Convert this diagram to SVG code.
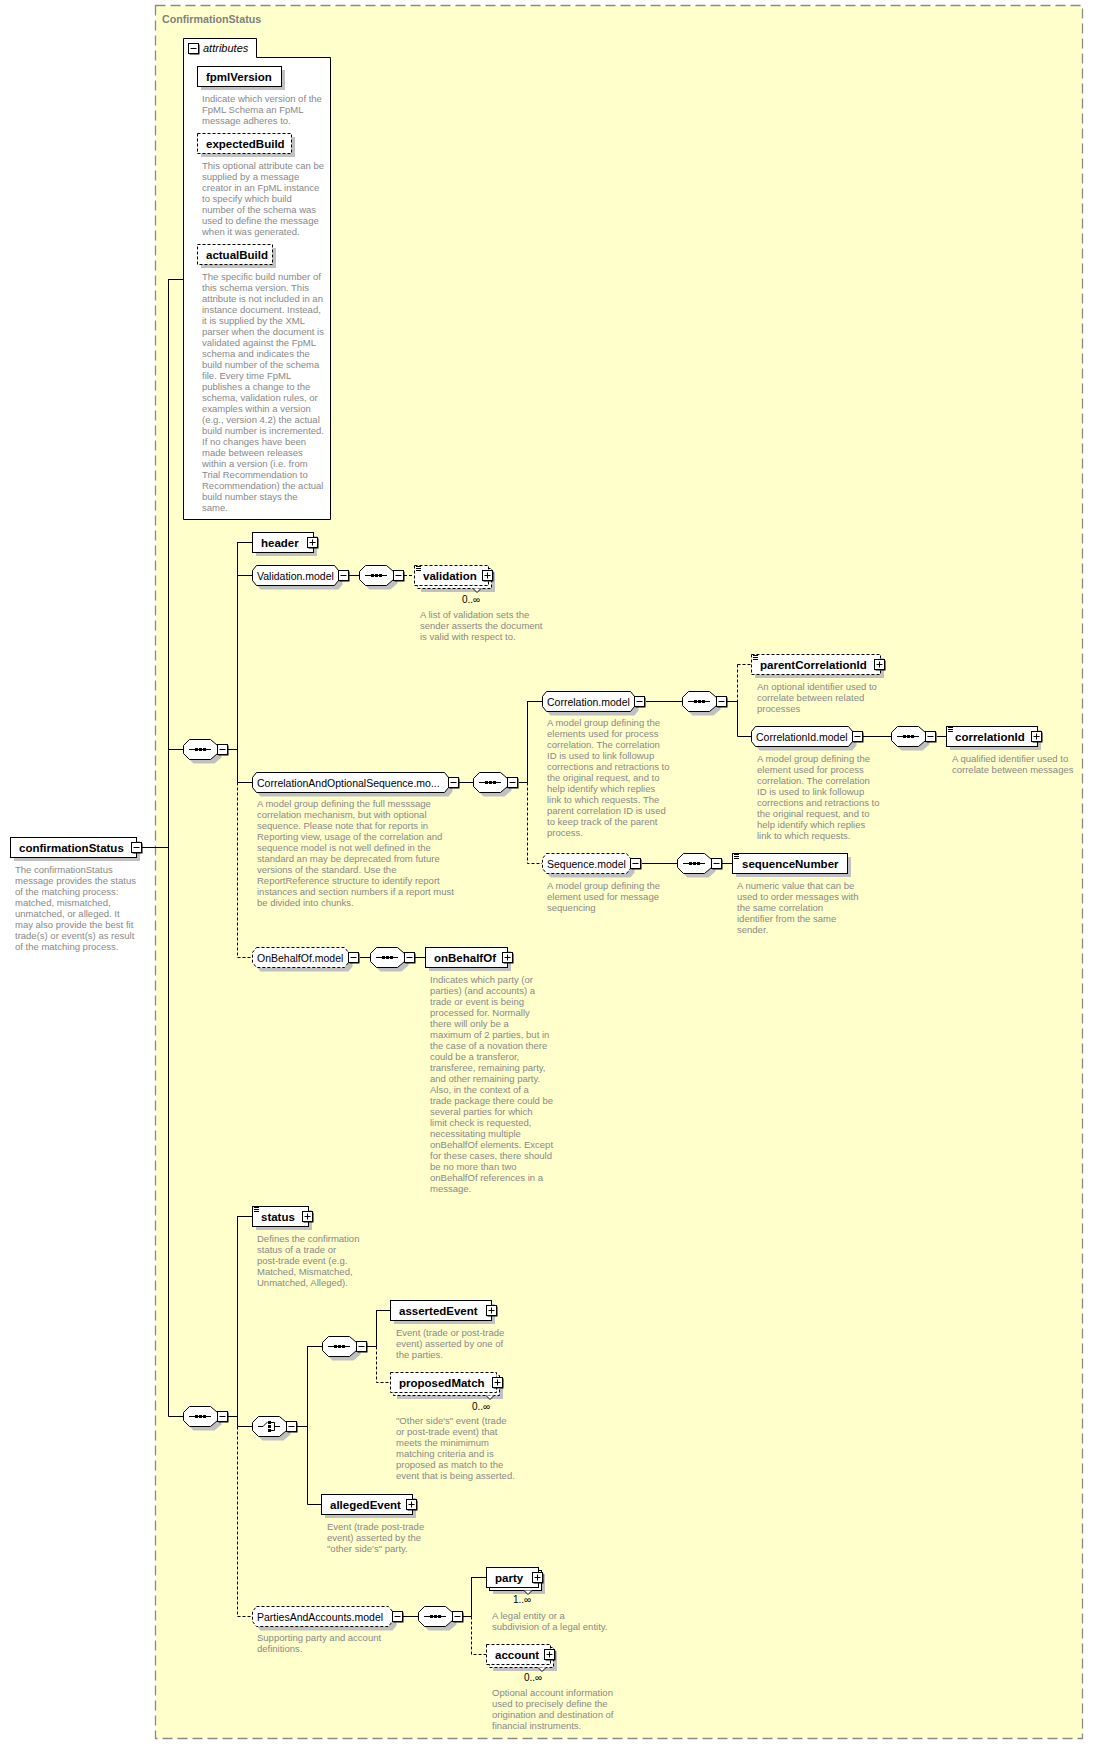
<svg xmlns="http://www.w3.org/2000/svg" xmlns:xlink="http://www.w3.org/1999/xlink" width="1093" height="1749" viewBox="0 0 1093 1749">
<style>
.frame{fill:#ffffcc;stroke:#8a8a8a;stroke-width:1.3;stroke-dasharray:10 5}
.ttl{font-family:"Liberation Sans",Arial,sans-serif;font-weight:bold;font-size:10.7px;fill:#808080}
.el{fill:#fff;stroke:#000;stroke-width:1}
.opt{stroke-dasharray:3 2}
.sh{fill:#c0c0c0;stroke:none}
.ln{fill:none;stroke:#000;stroke-width:1}
.dl{fill:none;stroke:#000;stroke-width:1;stroke-dasharray:3 2}
.n{font-family:"Liberation Sans",Arial,sans-serif;font-weight:bold;font-size:11.5px;fill:#000}
.m{font-family:"Liberation Sans",Arial,sans-serif;font-size:10.5px;fill:#000}
.it{font-family:"Liberation Sans",Arial,sans-serif;font-style:italic;font-size:11px;fill:#000}
.occ{font-family:"Liberation Sans",Arial,sans-serif;font-size:10px;fill:#000}
.d{font-family:"Liberation Sans",Arial,sans-serif;font-size:9.5px;fill:#888}
</style>
<defs>
<g id="bm"><rect x="1.5" y="1.5" width="10" height="10" fill="#000"/><rect x="0.5" y="0.5" width="10" height="10" fill="#fff" stroke="#000"/><path d="M2.5 5.5H8.5" stroke="#000"/></g>
<g id="bp"><rect x="1.5" y="1.5" width="10" height="10" fill="#000"/><rect x="0.5" y="0.5" width="10" height="10" fill="#fff" stroke="#000"/><path d="M2.5 5.5H8.5M5.5 2.5V8.5" stroke="#000"/></g>
<g id="lst"><path d="M2 1.5H7M2 3.5H7M2 5.5H7" stroke="#000"/></g>
<g id="sq"><polygon class="sh" points="10.5,4.5 31.5,4.5 38.5,10.5 38.5,18.5 31.5,24.5 10.5,24.5 4.5,18.5 4.5,10.5"/><polygon class="el" points="6.5,0.5 27.5,0.5 34.5,6.5 34.5,14.5 27.5,20.5 6.5,20.5 0.5,14.5 0.5,6.5"/><path d="M6 10.5H28" stroke="#000"/><rect x="12" y="9" width="3" height="3" fill="#000"/><rect x="16" y="9" width="3" height="3" fill="#000"/><rect x="20" y="9" width="3" height="3" fill="#000"/><use xlink:href="#bm" x="34" y="5"/></g>
<g id="ch"><polygon class="sh" points="10.5,4.5 31.5,4.5 38.5,10.5 38.5,18.5 31.5,24.5 10.5,24.5 4.5,18.5 4.5,10.5"/><polygon class="el" points="6.5,0.5 27.5,0.5 34.5,6.5 34.5,14.5 27.5,20.5 6.5,20.5 0.5,14.5 0.5,6.5"/><path d="M6 10.5H11L15.5 6" fill="none" stroke="#000"/><rect x="16" y="5" width="3" height="3" fill="#000"/><rect x="16" y="9" width="3" height="3" fill="#000"/><rect x="16" y="13" width="3" height="3" fill="#000"/><path d="M19 6.5H22.5V14.5H19M22.5 10.5H28" fill="none" stroke="#000"/><use xlink:href="#bm" x="34" y="5"/></g>
</defs>

<rect class="frame" x="155.5" y="5.5" width="927" height="1733"/>
<text class="ttl" x="162" y="23">ConfirmationStatus</text>

<g id="connectors">
<path class="ln" d="M141 847.5H168.5M168.5 279V1416.5M168.5 279.5H183M168.5 749.5H183M168.5 1416.5H183M228 749.5H237.5M237.5 542V782.5M237.5 542.5H252M237.5 575.5H252M349 575.5H359M237.5 782.5H252M459 782.5H473M519 782.5H527.5M527.5 701V782.5M527.5 701.5H542M646 701.5H682M727 701.5H737.5M737.5 701V736.5M737.5 736.5H751M862 736.5H891M937 736.5H946M642 863.5H677M722 863.5H732M360 957.5H370M415 957.5H425M228 1416.5H237.5M237.5 1216V1426.5M237.5 1216.5H252M237.5 1426.5H252M297 1426.5H307.5M307.5 1346V1504.5M307.5 1346.5H322M366 1346.5H376.5M376.5 1310V1346.5M376.5 1310.5H390M307.5 1504.5H321M403 1616.5H418M462 1616.5H471.5M471.5 1577V1616.5M471.5 1577.5H486"/>
<path class="dl" d="M404 575.5H414M237.5 782.5V957.5H252M527.5 782.5V863.5H542M737.5 664.5V701M737.5 664.5H751M376.5 1346.5V1382.5H390M237.5 1426.5V1616.5H252M471.5 1616.5V1654.5H486"/>
</g>

<g id="attributes">
<path class="el" d="M183.5 519.5V38.5H256.5V57.5H330.5V519.5Z"/>
<use xlink:href="#bm" x="188" y="43"/>
<text class="it" x="203" y="52">attributes</text>
<g id="fpmlVersion">
<rect class="sh" x="201" y="70" width="84" height="20"/>
<rect class="el" x="197.5" y="66.5" width="84" height="20"/>
<text class="n" x="206" y="81">fpmlVersion</text>
<text class="d" x="202" y="102"><tspan x="202">Indicate which version of the</tspan><tspan x="202" dy="11">FpML Schema an FpML</tspan><tspan x="202" dy="11">message adheres to.</tspan></text>
</g>
<g id="expectedBuild">
<rect class="sh" x="201" y="137" width="94" height="20"/>
<rect class="el opt" x="197.5" y="133.5" width="94" height="20"/>
<text class="n" x="206" y="148">expectedBuild</text>
<text class="d" x="202" y="169"><tspan x="202">This optional attribute can be</tspan><tspan x="202" dy="11">supplied by a message</tspan><tspan x="202" dy="11">creator in an FpML instance</tspan><tspan x="202" dy="11">to specify which build</tspan><tspan x="202" dy="11">number of the schema was</tspan><tspan x="202" dy="11">used to define the message</tspan><tspan x="202" dy="11">when it was generated.</tspan></text>
</g>
<g id="actualBuild">
<rect class="sh" x="201" y="248" width="75" height="20"/>
<rect class="el opt" x="197.5" y="244.5" width="75" height="20"/>
<text class="n" x="206" y="259">actualBuild</text>
<text class="d" x="202" y="280"><tspan x="202">The specific build number of</tspan><tspan x="202" dy="11">this schema version. This</tspan><tspan x="202" dy="11">attribute is not included in an</tspan><tspan x="202" dy="11">instance document. Instead,</tspan><tspan x="202" dy="11">it is supplied by the XML</tspan><tspan x="202" dy="11">parser when the document is</tspan><tspan x="202" dy="11">validated against the FpML</tspan><tspan x="202" dy="11">schema and indicates the</tspan><tspan x="202" dy="11">build number of the schema</tspan><tspan x="202" dy="11">file. Every time FpML</tspan><tspan x="202" dy="11">publishes a change to the</tspan><tspan x="202" dy="11">schema, validation rules, or</tspan><tspan x="202" dy="11">examples within a version</tspan><tspan x="202" dy="11">(e.g., version 4.2) the actual</tspan><tspan x="202" dy="11">build number is incremented.</tspan><tspan x="202" dy="11">If no changes have been</tspan><tspan x="202" dy="11">made between releases</tspan><tspan x="202" dy="11">within a version (i.e. from</tspan><tspan x="202" dy="11">Trial Recommendation to</tspan><tspan x="202" dy="11">Recommendation) the actual</tspan><tspan x="202" dy="11">build number stays the</tspan><tspan x="202" dy="11">same.</tspan></text>
</g>
</g>

<g id="confirmationStatus" transform="translate(10,837)">
<rect class="sh" x="4" y="4" width="126" height="20"/>
<rect class="el" x="0.5" y="0.5" width="126" height="20"/>
<text class="n" x="9" y="15">confirmationStatus</text>
<use xlink:href="#bm" x="121" y="5"/>
<text class="d" x="5" y="36"><tspan x="5">The confirmationStatus</tspan><tspan x="5" dy="11">message provides the status</tspan><tspan x="5" dy="11">of the matching process:</tspan><tspan x="5" dy="11">matched, mismatched,</tspan><tspan x="5" dy="11">unmatched, or alleged. It</tspan><tspan x="5" dy="11">may also provide the best fit</tspan><tspan x="5" dy="11">trade(s) or event(s) as result</tspan><tspan x="5" dy="11">of the matching process.</tspan></text>
</g>

<g id="seq1"><use xlink:href="#sq" x="183" y="739"/></g>

<g id="header" transform="translate(252,532)">
<rect class="sh" x="4" y="4" width="61" height="20"/>
<rect class="el" x="0.5" y="0.5" width="61" height="20"/>
<text class="n" x="9" y="15">header</text>
<use xlink:href="#bp" x="55" y="5"/>
</g>

<g id="Validation.model" transform="translate(252,565)">
<polygon class="sh" points="8.5,4.5 86.5,4.5 90.5,9.5 90.5,19.5 86.5,24.5 8.5,24.5 4.5,19.5 4.5,9.5"/>
<polygon class="el" points="4.5,0.5 82.5,0.5 86.5,5.5 86.5,15.5 82.5,20.5 4.5,20.5 0.5,15.5 0.5,5.5"/>
<text class="m" x="5" y="14.5">Validation.model</text>
<use xlink:href="#bm" x="86" y="5"/>
</g>
<g id="seqValidation"><use xlink:href="#sq" x="359" y="565"/></g>
<g id="validation" transform="translate(414,565)">
<rect class="sh" x="7" y="7" width="74" height="20"/>
<rect class="el opt" x="3.5" y="3.5" width="74" height="20"/>
<rect class="el opt" x="0.5" y="0.5" width="74" height="20"/>
<path d="M59 23.5L63 27.5L67 23.5" fill="#fff" stroke="#000"/>
<use xlink:href="#lst"/>
<text class="n" x="9" y="15">validation</text>
<use xlink:href="#bp" x="68" y="5"/>
<text class="occ" x="48" y="38">0..∞</text>
<text class="d" x="6" y="53"><tspan x="6">A list of validation sets the</tspan><tspan x="6" dy="11">sender asserts the document</tspan><tspan x="6" dy="11">is valid with respect to.</tspan></text>
</g>

<g id="CorrelationAndOptionalSequence.model" transform="translate(252,772)">
<polygon class="sh" points="8.5,4.5 196.5,4.5 200.5,9.5 200.5,19.5 196.5,24.5 8.5,24.5 4.5,19.5 4.5,9.5"/>
<polygon class="el" points="4.5,0.5 192.5,0.5 196.5,5.5 196.5,15.5 192.5,20.5 4.5,20.5 0.5,15.5 0.5,5.5"/>
<text class="m" x="5" y="14.5">CorrelationAndOptionalSequence.mo...</text>
<use xlink:href="#bm" x="196" y="5"/>
<text class="d" x="5" y="35"><tspan x="5">A model group defining the full messsage</tspan><tspan x="5" dy="11">correlation mechanism, but with optional</tspan><tspan x="5" dy="11">sequence. Please note that for reports in</tspan><tspan x="5" dy="11">Reporting view, usage of the correlation and</tspan><tspan x="5" dy="11">sequence model is not well defined in the</tspan><tspan x="5" dy="11">standard an may be deprecated from future</tspan><tspan x="5" dy="11">versions of the standard. Use the</tspan><tspan x="5" dy="11">ReportReference structure to identify report</tspan><tspan x="5" dy="11">instances and section numbers if a report must</tspan><tspan x="5" dy="11">be divided into chunks.</tspan></text>
</g>
<g id="seqCorrAndOpt"><use xlink:href="#sq" x="473" y="772"/></g>

<g id="Correlation.model" transform="translate(542,691)">
<polygon class="sh" points="8.5,4.5 92.5,4.5 96.5,9.5 96.5,19.5 92.5,24.5 8.5,24.5 4.5,19.5 4.5,9.5"/>
<polygon class="el" points="4.5,0.5 88.5,0.5 92.5,5.5 92.5,15.5 88.5,20.5 4.5,20.5 0.5,15.5 0.5,5.5"/>
<text class="m" x="5" y="14.5">Correlation.model</text>
<use xlink:href="#bm" x="92" y="5"/>
<text class="d" x="5" y="35"><tspan x="5">A model group defining the</tspan><tspan x="5" dy="11">elements used for process</tspan><tspan x="5" dy="11">correlation. The correlation</tspan><tspan x="5" dy="11">ID is used to link followup</tspan><tspan x="5" dy="11">corrections and retractions to</tspan><tspan x="5" dy="11">the original request, and to</tspan><tspan x="5" dy="11">help identify which replies</tspan><tspan x="5" dy="11">link to which requests. The</tspan><tspan x="5" dy="11">parent correlation ID is used</tspan><tspan x="5" dy="11">to keep track of the parent</tspan><tspan x="5" dy="11">process.</tspan></text>
</g>
<g id="seqCorrelation"><use xlink:href="#sq" x="682" y="691"/></g>

<g id="parentCorrelationId" transform="translate(751,654)">
<rect class="sh" x="4" y="4" width="129" height="20"/>
<rect class="el opt" x="0.5" y="0.5" width="129" height="20"/>
<use xlink:href="#lst"/>
<text class="n" x="9" y="15">parentCorrelationId</text>
<use xlink:href="#bp" x="123" y="5"/>
<text class="d" x="6" y="36"><tspan x="6">An optional identifier used to</tspan><tspan x="6" dy="11">correlate between related</tspan><tspan x="6" dy="11">processes</tspan></text>
</g>

<g id="CorrelationId.model" transform="translate(751,726)">
<polygon class="sh" points="8.5,4.5 101.5,4.5 105.5,9.5 105.5,19.5 101.5,24.5 8.5,24.5 4.5,19.5 4.5,9.5"/>
<polygon class="el" points="4.5,0.5 97.5,0.5 101.5,5.5 101.5,15.5 97.5,20.5 4.5,20.5 0.5,15.5 0.5,5.5"/>
<text class="m" x="5" y="14.5">CorrelationId.model</text>
<use xlink:href="#bm" x="101" y="5"/>
<text class="d" x="6" y="36"><tspan x="6">A model group defining the</tspan><tspan x="6" dy="11">element used for process</tspan><tspan x="6" dy="11">correlation. The correlation</tspan><tspan x="6" dy="11">ID is used to link followup</tspan><tspan x="6" dy="11">corrections and retractions to</tspan><tspan x="6" dy="11">the original request, and to</tspan><tspan x="6" dy="11">help identify which replies</tspan><tspan x="6" dy="11">link to which requests.</tspan></text>
</g>
<g id="seqCorrelationId"><use xlink:href="#sq" x="891" y="726"/></g>

<g id="correlationId" transform="translate(946,726)">
<rect class="sh" x="4" y="4" width="91" height="20"/>
<rect class="el" x="0.5" y="0.5" width="91" height="20"/>
<use xlink:href="#lst"/>
<text class="n" x="9" y="15">correlationId</text>
<use xlink:href="#bp" x="85" y="5"/>
<text class="d" x="6" y="36"><tspan x="6">A qualified identifier used to</tspan><tspan x="6" dy="11">correlate between messages</tspan></text>
</g>

<g id="Sequence.model" transform="translate(542,853)">
<polygon class="sh" points="8.5,4.5 88.5,4.5 92.5,9.5 92.5,19.5 88.5,24.5 8.5,24.5 4.5,19.5 4.5,9.5"/>
<polygon class="el opt" points="4.5,0.5 84.5,0.5 88.5,5.5 88.5,15.5 84.5,20.5 4.5,20.5 0.5,15.5 0.5,5.5"/>
<text class="m" x="5" y="14.5">Sequence.model</text>
<use xlink:href="#bm" x="88" y="5"/>
<text class="d" x="5" y="36"><tspan x="5">A model group defining the</tspan><tspan x="5" dy="11">element used for message</tspan><tspan x="5" dy="11">sequencing</tspan></text>
</g>
<g id="seqSequence"><use xlink:href="#sq" x="677" y="853"/></g>

<g id="sequenceNumber" transform="translate(732,853)">
<rect class="sh" x="4" y="4" width="115" height="20"/>
<rect class="el" x="0.5" y="0.5" width="115" height="20"/>
<use xlink:href="#lst"/>
<text class="n" x="10" y="15">sequenceNumber</text>
<text class="d" x="5" y="36"><tspan x="5">A numeric value that can be</tspan><tspan x="5" dy="11">used to order messages with</tspan><tspan x="5" dy="11">the same correlation</tspan><tspan x="5" dy="11">identifier from the same</tspan><tspan x="5" dy="11">sender.</tspan></text>
</g>

<g id="OnBehalfOf.model" transform="translate(252,947)">
<polygon class="sh" points="8.5,4.5 96.5,4.5 100.5,9.5 100.5,19.5 96.5,24.5 8.5,24.5 4.5,19.5 4.5,9.5"/>
<polygon class="el opt" points="4.5,0.5 92.5,0.5 96.5,5.5 96.5,15.5 92.5,20.5 4.5,20.5 0.5,15.5 0.5,5.5"/>
<text class="m" x="5" y="14.5">OnBehalfOf.model</text>
<use xlink:href="#bm" x="96" y="5"/>
</g>
<g id="seqOnBehalfOf"><use xlink:href="#sq" x="370" y="947"/></g>

<g id="onBehalfOf" transform="translate(425,947)">
<rect class="sh" x="4" y="4" width="82" height="20"/>
<rect class="el" x="0.5" y="0.5" width="82" height="20"/>
<text class="n" x="9" y="15">onBehalfOf</text>
<use xlink:href="#bp" x="77" y="5"/>
<text class="d" x="5" y="36"><tspan x="5">Indicates which party (or</tspan><tspan x="5" dy="11">parties) (and accounts) a</tspan><tspan x="5" dy="11">trade or event is being</tspan><tspan x="5" dy="11">processed for. Normally</tspan><tspan x="5" dy="11">there will only be a</tspan><tspan x="5" dy="11">maximum of 2 parties, but in</tspan><tspan x="5" dy="11">the case of a novation there</tspan><tspan x="5" dy="11">could be a transferor,</tspan><tspan x="5" dy="11">transferee, remaining party,</tspan><tspan x="5" dy="11">and other remaining party.</tspan><tspan x="5" dy="11">Also, in the context of a</tspan><tspan x="5" dy="11">trade package there could be</tspan><tspan x="5" dy="11">several parties for which</tspan><tspan x="5" dy="11">limit check is requested,</tspan><tspan x="5" dy="11">necessitating multiple</tspan><tspan x="5" dy="11">onBehalfOf elements. Except</tspan><tspan x="5" dy="11">for these cases, there should</tspan><tspan x="5" dy="11">be no more than two</tspan><tspan x="5" dy="11">onBehalfOf references in a</tspan><tspan x="5" dy="11">message.</tspan></text>
</g>

<g id="seq2"><use xlink:href="#sq" x="183" y="1406"/></g>

<g id="status" transform="translate(252,1206)">
<rect class="sh" x="4" y="4" width="56" height="20"/>
<rect class="el" x="0.5" y="0.5" width="56" height="20"/>
<use xlink:href="#lst"/>
<text class="n" x="9" y="15">status</text>
<use xlink:href="#bp" x="50" y="5"/>
<text class="d" x="5" y="36"><tspan x="5">Defines the confirmation</tspan><tspan x="5" dy="11">status of a trade or</tspan><tspan x="5" dy="11">post-trade event (e.g.</tspan><tspan x="5" dy="11">Matched, Mismatched,</tspan><tspan x="5" dy="11">Unmatched, Alleged).</tspan></text>
</g>

<g id="choice"><use xlink:href="#ch" x="252" y="1416"/></g>
<g id="seq3"><use xlink:href="#sq" x="322" y="1336"/></g>

<g id="assertedEvent" transform="translate(390,1300)">
<rect class="sh" x="4" y="4" width="101" height="20"/>
<rect class="el" x="0.5" y="0.5" width="101" height="20"/>
<text class="n" x="9" y="15">assertedEvent</text>
<use xlink:href="#bp" x="96" y="5"/>
<text class="d" x="6" y="36"><tspan x="6">Event (trade or post-trade</tspan><tspan x="6" dy="11">event) asserted by one of</tspan><tspan x="6" dy="11">the parties.</tspan></text>
</g>

<g id="proposedMatch" transform="translate(390,1372)">
<rect class="sh" x="7" y="7" width="106" height="20"/>
<rect class="el opt" x="3.5" y="3.5" width="106" height="20"/>
<rect class="el opt" x="0.5" y="0.5" width="106" height="20"/>
<path d="M96 23.5L100 27.5L104 23.5" fill="#fff" stroke="#000"/>
<text class="n" x="9" y="15">proposedMatch</text>
<use xlink:href="#bp" x="102" y="5"/>
<text class="occ" x="82" y="38">0..∞</text>
<text class="d" x="6" y="52"><tspan x="6">"Other side's" event (trade</tspan><tspan x="6" dy="11">or post-trade event) that</tspan><tspan x="6" dy="11">meets the minimimum</tspan><tspan x="6" dy="11">matching criteria and is</tspan><tspan x="6" dy="11">proposed as match to the</tspan><tspan x="6" dy="11">event that is being asserted.</tspan></text>
</g>

<g id="allegedEvent" transform="translate(321,1494)">
<rect class="sh" x="4" y="4" width="91" height="20"/>
<rect class="el" x="0.5" y="0.5" width="91" height="20"/>
<text class="n" x="9" y="15">allegedEvent</text>
<use xlink:href="#bp" x="85" y="5"/>
<text class="d" x="6" y="36"><tspan x="6">Event (trade post-trade</tspan><tspan x="6" dy="11">event) asserted by the</tspan><tspan x="6" dy="11">"other side's" party.</tspan></text>
</g>

<g id="PartiesAndAccounts.model" transform="translate(252,1606)">
<polygon class="sh" points="8.5,4.5 140.5,4.5 144.5,9.5 144.5,19.5 140.5,24.5 8.5,24.5 4.5,19.5 4.5,9.5"/>
<polygon class="el opt" points="4.5,0.5 136.5,0.5 140.5,5.5 140.5,15.5 136.5,20.5 4.5,20.5 0.5,15.5 0.5,5.5"/>
<text class="m" x="5" y="14.5">PartiesAndAccounts.model</text>
<use xlink:href="#bm" x="140" y="5"/>
<text class="d" x="5" y="35"><tspan x="5">Supporting party and account</tspan><tspan x="5" dy="11">definitions.</tspan></text>
</g>
<g id="seqParties"><use xlink:href="#sq" x="418" y="1606"/></g>

<g id="party" transform="translate(486,1567)">
<rect class="sh" x="7" y="7" width="52" height="20"/>
<rect class="el" x="3.5" y="3.5" width="52" height="20"/>
<rect class="el" x="0.5" y="0.5" width="52" height="20"/>
<path d="M38 23.5L42 27.5L46 23.5" fill="#fff" stroke="#000"/>
<text class="n" x="9" y="15">party</text>
<use xlink:href="#bp" x="46" y="5"/>
<text class="occ" x="27" y="36">1..∞</text>
<text class="d" x="6" y="52"><tspan x="6">A legal entity or a</tspan><tspan x="6" dy="11">subdivision of a legal entity.</tspan></text>
</g>

<g id="account" transform="translate(486,1644)">
<rect class="sh" x="7" y="7" width="64" height="20"/>
<rect class="el opt" x="3.5" y="3.5" width="64" height="20"/>
<rect class="el opt" x="0.5" y="0.5" width="64" height="20"/>
<path d="M52 23.5L56 27.5L60 23.5" fill="#fff" stroke="#000"/>
<text class="n" x="9" y="15">account</text>
<use xlink:href="#bp" x="58" y="5"/>
<text class="occ" x="38" y="37">0..∞</text>
<text class="d" x="6" y="52"><tspan x="6">Optional account information</tspan><tspan x="6" dy="11">used to precisely define the</tspan><tspan x="6" dy="11">origination and destination of</tspan><tspan x="6" dy="11">financial instruments.</tspan></text>
</g>
</svg>
